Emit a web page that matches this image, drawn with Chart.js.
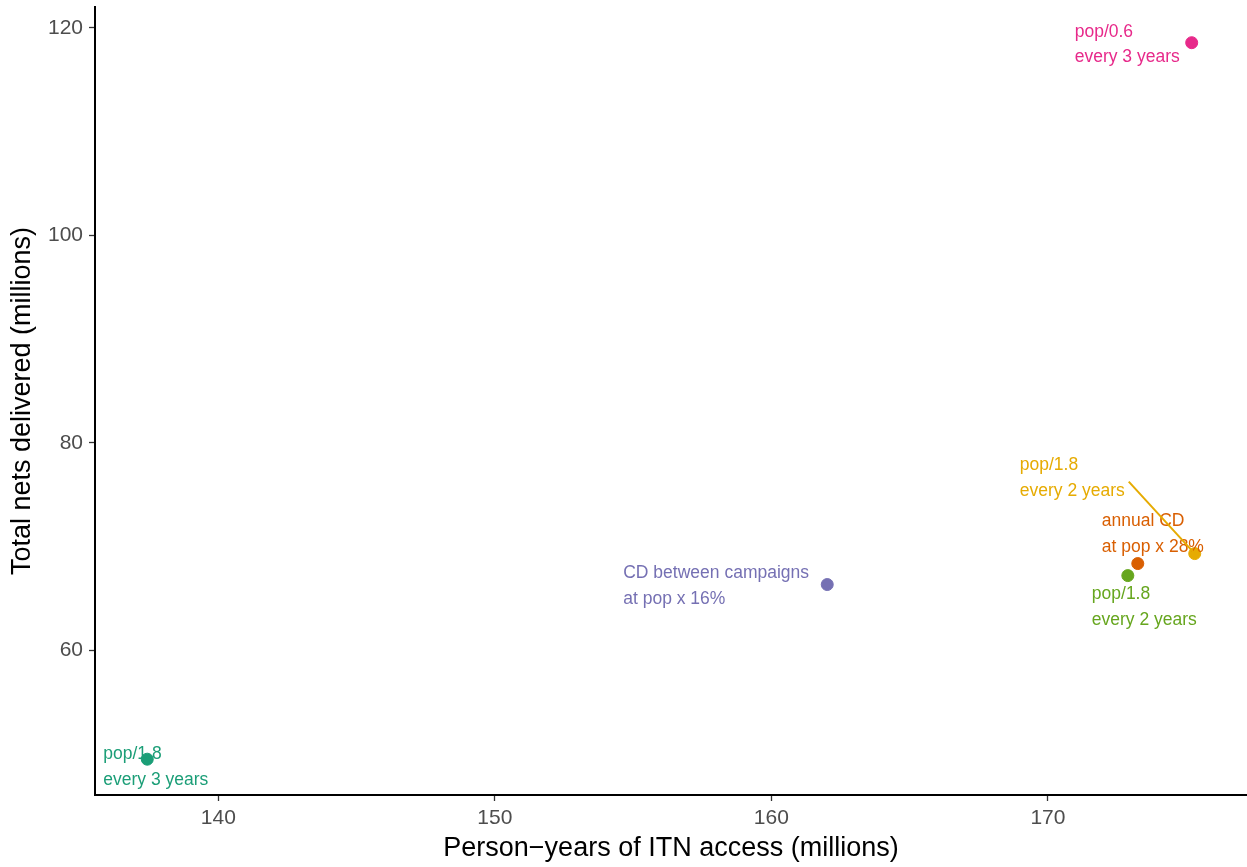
<!DOCTYPE html>
<html lang="en">
<head>
    <meta charset="UTF-8">
    <title>ITN access vs nets delivered</title>
    <script src="https://cdn.jsdelivr.net/npm/chart.js"></script>
    <style>
        body { margin: 0; background: #fff; }
        .wrap { width: 1247px; height: 867px; }
    </style>
</head>
<body>
    <div class="wrap"><canvas id="chart"></canvas></div>
    <script>
        // strategy data (millions)
        const strategies = ['pop/1.8|every 3 years', 'CD between campaigns|at pop x 16%', 'pop/1.8|every 2 years',
                            'annual CD|at pop x 28%', 'pop/1.8|every 2 years', 'pop/0.6|every 3 years'];
        const personYears = [137.43, 162.02, 172.89, 173.25, 175.31, 175.20];
        const netsDelivered = [49.52, 66.35, 67.21, 68.37, 69.33, 118.56];
        const colours = ['#1B9E77', '#7570B3', '#66A61E', '#D95F02', '#E6AB02', '#E7298A'];
        const xTicks = [140, 150, 160, 170];
        const yTicks = [60, 80, 100, 120];

        // label placement relative to the point, in px (first line centre)
        const labelOffsets = [[-44, -5], [-204, -11], [-36, 19], [-36, -42], [-175, -88], [-117, -11]];
        const leaders = [null, null, null, null, [-66, -72], null];

        const labelPlugin = {
            id: 'pointLabels',
            afterDatasetsDraw(chart) {
                const ctx = chart.ctx;
                const pts = chart.getDatasetMeta(0).data;
                ctx.save();
                pts.forEach((p, i) => {
                    const [dx, dy] = labelOffsets[i];
                    ctx.fillStyle = colours[i];
                    ctx.font = '17.5px "Liberation Sans", Arial, sans-serif';
                    ctx.textAlign = 'left';
                    ctx.textBaseline = 'middle';
                    strategies[i].split('|').forEach((line, k) => {
                        ctx.fillText(line, p.x + dx, p.y + dy + k * 25.5);
                    });
                    if (leaders[i]) {
                        ctx.strokeStyle = colours[i];
                        ctx.lineWidth = 2;
                        ctx.beginPath();
                        ctx.moveTo(p.x + leaders[i][0], p.y + leaders[i][1]);
                        ctx.lineTo(p.x, p.y);
                        ctx.stroke();
                    }
                });
                ctx.restore();
            }
        };

        new Chart(document.getElementById('chart'), {
            type: 'scatter',
            data: {
                datasets: [{
                    data: personYears.map((x, i) => ({ x: x, y: netsDelivered[i] })),
                    backgroundColor: colours,
                    borderColor: colours,
                    pointRadius: 6,
                    pointHoverRadius: 6
                }]
            },
            options: {
                responsive: true,
                maintainAspectRatio: false,
                animation: false,
                layout: { autoPadding: false, padding: { top: 7, right: 0, left: 0, bottom: 0 } },
                plugins: { legend: { display: false }, tooltip: { enabled: false } },
                scales: {
                    x: {
                        min: 135.54, max: 177.2,
                        afterBuildTicks: s => { s.ticks = xTicks.map(v => ({ value: v })); },
                        afterFit: s => { s.height = 72; s.paddingLeft = 0; s.paddingRight = 0; },
                        grid: { drawOnChartArea: false, color: '#333', tickLength: 6, tickWidth: 1.3 },
                        border: { color: '#000', width: 2 },
                        ticks: { color: '#4D4D4D', padding: 5, font: { size: 21, family: '"Liberation Sans", Arial' } },
                        title: { display: true, text: 'Person\u2212years of ITN access (millions)', color: '#000',
                                 font: { size: 27, family: '"Liberation Sans", Arial' }, padding: { top: 0, bottom: 2 } }
                    },
                    y: {
                        min: 46.07, max: 122.0,
                        afterBuildTicks: s => { s.ticks = yTicks.map(v => ({ value: v })); },
                        afterFit: s => { s.width = 95; s.paddingTop = 0; s.paddingBottom = 0; },
                        grid: { drawOnChartArea: false, color: '#333', tickLength: 6, tickWidth: 1.3 },
                        border: { color: '#000', width: 2 },
                        ticks: { color: '#4D4D4D', padding: 6, font: { size: 21, family: '"Liberation Sans", Arial' } },
                        title: { display: true, text: 'Total nets delivered (millions)', color: '#000',
                                 font: { size: 27, family: '"Liberation Sans", Arial' }, padding: { top: 6, bottom: 0 } }
                    }
                }
            },
            plugins: [labelPlugin]
        });
    </script>
</body>
</html>
